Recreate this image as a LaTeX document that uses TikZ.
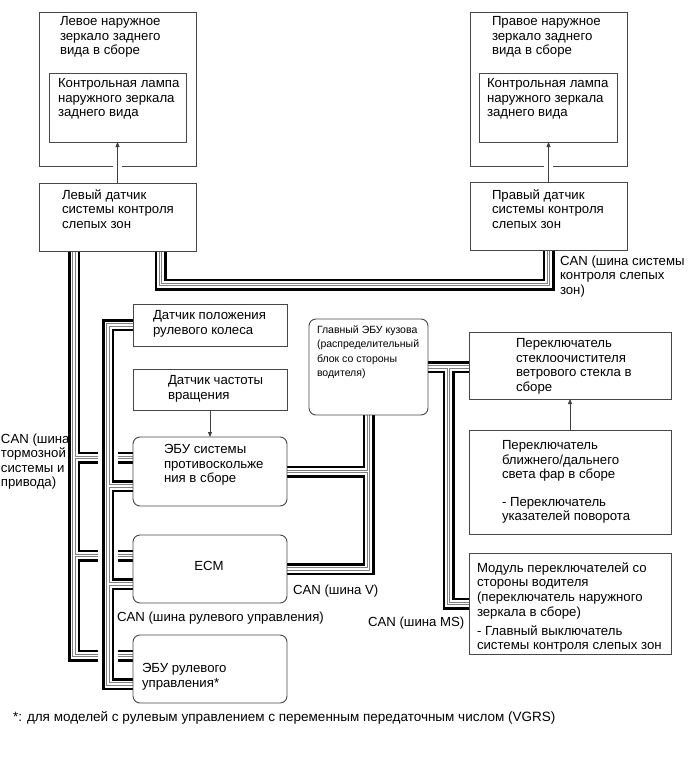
\documentclass[tikz,border=0pt]{standalone}
\usepackage{fontspec}
\setmainfont{Liberation Sans}
\usetikzlibrary{arrows.meta,calc}
\pgfdeclarelayer{back}
\pgfdeclarelayer{bg}
\pgfsetlayers{back,bg,main}
\newcommand\allbuses[1]{%
  \draw[bus,#1] (xA) -- (xA |- yA3) -- (gL |- yA3)
     (gR |- yA3) -- (yA3)
     (xA |- yA1) -- (gL |- yA1) (gR |- yA1) -- (yA1)
     (xA |- yA2) -- (gL |- yA2) (gR |- yA2) -- (yA2);
  \draw[bus,#1] (steer.west) -- (xB) -- (xB |- yB3) -- (yB3)
     (xB |- yB1) -- (yB1) (xB |- yB2) -- (yB2);
  \draw[bus,#1] (xS) -- (yS) -- (yS -| bsmR.south) -- (bsmR.south);
  \draw[bus,#1] (body.south) -- (body.south |- ecm.east) -- (ecm.east)
     (body.south |- abs.east) -- (abs.east);
  \draw[bus,#1] (body.east) -- (body.east -| wiper.west)
     (msj) -- (msj |- module.west) -- (module.west);
}
\begin{document}
\begin{tikzpicture}[x=1pt,y=-1pt,
  blk/.style={draw=black!72, line width=0.9pt, inner sep=0pt, outer sep=0pt, rectangle},
  rbox/.style={blk, rounded corners=7pt},
  txt/.style={anchor=north west, inner sep=0pt, outer sep=0pt, align=left, yshift=-1.5pt, font=\fontsize{13.2}{14.6}\selectfont},
  stxt/.style={txt, font=\fontsize{10.5}{14.5}\selectfont},
  conn/.style={draw=black!75, line width=0.8pt, -{Triangle[length=5pt,width=4pt]}},
  bus/.style={line join=miter, line cap=butt}
]
\useasboundingbox (0,0) rectangle (690,757);
\begin{pgfonlayer}{back}
\fill[white] (0,0) rectangle (690,757);
\end{pgfonlayer}

% boxes
\node[blk, minimum width=157pt, minimum height=154pt] (mirL) at (117.5,89) {};
\node[blk, minimum width=137pt, minimum height=69pt] (lampL) at (117.5,107.5) {};
\node[blk, minimum width=157pt, minimum height=68pt] (bsmL) at (117.5,217) {};
\node[blk, minimum width=157pt, minimum height=154pt] (mirR) at (548.5,89) {};
\node[blk, minimum width=138pt, minimum height=69pt] (lampR) at (548.5,107.5) {};
\node[blk, minimum width=157pt, minimum height=68pt] (bsmR) at (548.5,216.5) {};
\node[blk, minimum width=154pt, minimum height=42pt] (steer) at (210,325) {};
\node[blk, minimum width=154pt, minimum height=41pt] (speed) at (210,389.5) {};
\node[rbox, minimum width=154pt, minimum height=69pt] (abs) at (210,471.5) {};
\node[rbox, minimum width=154pt, minimum height=68pt] (ecm) at (210,569) {};
\node[rbox, minimum width=154pt, minimum height=68pt] (secu) at (210,669) {};
\node[rbox, minimum width=119pt, minimum height=96pt] (body) at (368.5,367) {};
\node[blk, minimum width=202pt, minimum height=67pt] (wiper) at (570,365.5) {};
\node[blk, minimum width=202pt, minimum height=104pt] (head) at (570,482) {};
\node[blk, minimum width=202pt, minimum height=101pt] (module) at (570,603.5) {};

% texts
\node[txt] (tmirL) at (60,15) {Левое наружное\\зеркало заднего\\вида в сборе};
\node[txt] (tlampL) at (58,77) {Контрольная лампа\\наружного зеркала\\заднего вида};
\node[txt] (tbsmL) at (62,188) {Левый датчик\\системы контроля\\слепых зон};
\node[txt] (tmirR) at (492,15) {Правое наружное\\зеркало заднего\\вида в сборе};
\node[txt] (tlampR) at (487,77) {Контрольная лампа\\наружного зеркала\\заднего вида};
\node[txt] (tbsmR) at (492,188) {Правый датчик\\системы контроля\\слепых зон};
\node[txt] (lbsm) at (560,254) {CAN (шина системы\\контроля слепых\\зон)};
\node[txt] (lbrake) at (1,432) {CAN (шина\\тормозной\\системы и\\привода)};
\node[txt] (tsteer) at (153,309) {Датчик положения\\рулевого колеса};
\node[txt] (tspeed) at (168,374) {Датчик частоты\\вращения};
\node[txt] (tabs) at (164,443) {ЭБУ системы\\противоскольже\\ния в сборе};
\node[anchor=base, inner sep=0pt, font=\fontsize{13.2}{14.6}\selectfont] (tecm) at (209,570) {ECM};
\node[txt] (tsecu) at (142,662) {ЭБУ рулевого\\управления*};
\node[stxt] (tbody) at (317,324) {Главный ЭБУ кузова\\(распределительный\\блок со стороны\\водителя)};
\node[txt] (twiper) at (516,337) {Переключатель\\стеклоочистителя\\ветрового стекла в\\сборе};
\node[txt] (thead) at (502,439) {Переключатель\\ближнего/дальнего\\света фар в сборе\\[13pt]- Переключатель\\указателей поворота};
\node[txt] (tmodule) at (477,561) {Модуль переключателей со\\стороны водителя\\(переключатель наружного\\зеркала в сборе)\\[4.5pt]- Главный выключатель\\системы контроля слепых зон};
\node[txt] (lv) at (293,583) {CAN (шина V)};
\node[txt] (lsteer) at (117,610) {CAN (шина рулевого управления)};
\node[txt] (lms) at (368,615) {CAN (шина MS)};
\node[txt, font=\fontsize{13.5}{14.6}\selectfont] (foot) at (13,710) {*: для моделей с рулевым управлением с переменным передаточным числом (VGRS)};

% bus coordinates
\coordinate (xA) at ($(bsmL.south west)+(35,0)$);
\coordinate (xB) at ($(steer.west)+(-25,0)$);
\coordinate (gL) at ($(xB)+(-10,0)$);
\coordinate (gR) at ($(xB)+(10,0)$);
\coordinate (yA1) at ($(abs.north west)+(0,20.5)$);
\coordinate (yA2) at ($(ecm.north west)+(0,20.5)$);
\coordinate (yA3) at ($(secu.north west)+(0,20.5)$);
\coordinate (yB1) at ($(abs.north west)+(0,49)$);
\coordinate (yB2) at ($(ecm.north west)+(0,49)$);
\coordinate (yB3) at ($(secu.north west)+(0,49)$);
\coordinate (xS) at ($(bsmL.south west)+(121.5,0)$);
\coordinate (yS) at ($(xS)+(0,33.5)$);
\coordinate (msj) at ($(body.east)!0.5!(body.east -| wiper.west)$);

\begin{pgfonlayer}{bg}
\allbuses{draw=black, line width=12pt}
\allbuses{draw=white, line width=7pt}
\allbuses{draw=black!50, line width=3.4pt}
\allbuses{draw=white, line width=1.4pt}
\end{pgfonlayer}

% gaps in mirror boxes and arrows
\draw[white, line width=2pt] ($(mirL.south)+(-4.5,0)$) -- ($(mirL.south)+(4.5,0)$);
\draw[white, line width=2pt] ($(mirR.south)+(-4.5,0)$) -- ($(mirR.south)+(4.5,0)$);
\draw[conn] (bsmL.north) -- (lampL.south);
\draw[conn] (bsmR.north) -- (lampR.south);
\draw[conn] (speed.south) -- (abs.north);
\draw[conn] (head.north) -- (wiper.south);
\end{tikzpicture}
\end{document}
